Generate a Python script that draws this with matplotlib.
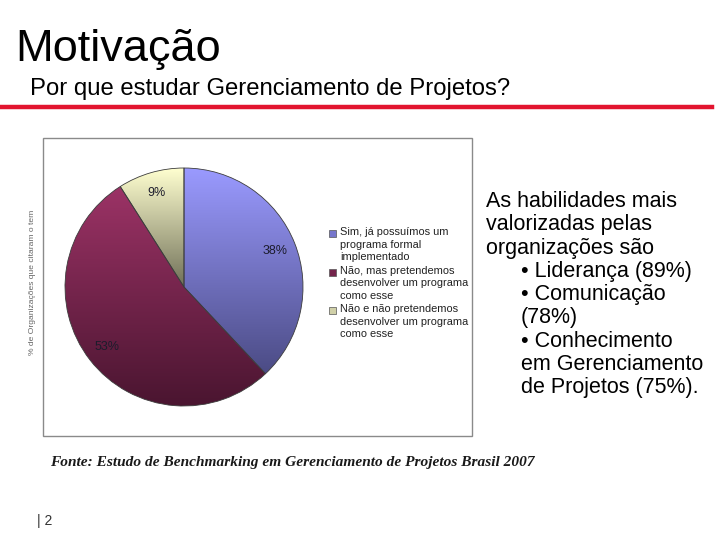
import matplotlib.pyplot as plt
import numpy as np
from matplotlib.colors import LinearSegmentedColormap
from matplotlib.lines import Line2D
from matplotlib.patches import Rectangle

plt.rcParams['font.family'] = ['Liberation Sans', 'DejaVu Sans']

W, H = 717, 538

shares = [38, 53, 9]
labels = ["Sim, já possuímos um\nprograma formal\nimplementado",
          "Não, mas pretendemos\ndesenvolver um programa\ncomo esse",
          "Não e não pretendemos\ndesenvolver um programa\ncomo esse"]
tops = ["#9a9aff", "#9c3366", "#ffffd0"]
bottoms = ["#4b4b84", "#4a1530", "#707058"]
mids = ["#7676cc", "#74244b", "#d0d0a8"]

side_lines = ["As habilidades mais", "valorizadas pelas", "organizações são",
              "• Liderança (89%)", "• Comunicação", "(78%)",
              "• Conhecimento", "em Gerenciamento", "de Projetos (75%)."]
side_indent = [0, 0, 0, 1, 1, 1, 1, 1, 1]


def fx(px):
    return px / W


def fy(py):
    return 1 - py / H


def main():
    fig = plt.figure(figsize=(W / 100, H / 100), dpi=100)

    # title block
    fig.text(fx(15), fy(61), "Motivação", fontsize=32.5, color="black", va="baseline")
    fig.text(fx(30), fy(95), "Por que estudar Gerenciamento de Projetos?", fontsize=17.2,
             color="black", va="baseline")
    fig.add_artist(Line2D([0, fx(712)], [fy(107), fy(107)], color="#e2142f", lw=3.2))

    # chart frame
    fig.add_artist(Rectangle((fx(43), fy(436)), fx(472) - fx(43), fy(138) - fy(436),
                             transform=fig.transFigure, fill=False, edgecolor="#8a8a8a", lw=1))

    cx, cy, r = 184, 287, 119
    ax = fig.add_axes([fx(cx - r), fy(cy + r), 2 * r / W, 2 * r / H])
    wedges, _, autotexts = ax.pie(shares, colors=mids, startangle=90, counterclock=False,
                                  autopct="%.0f%%", pctdistance=0.82,
                                  wedgeprops=dict(edgecolor="#3c3c3c", linewidth=0.6),
                                  textprops=dict(fontsize=9, color="#1c1c2c"))

    grad = np.linspace(1, 0, 256).reshape(-1, 1)
    for w, top, bot in zip(wedges, tops, bottoms):
        w.set_facecolor("none")
        bb = w.get_path().get_extents()
        cmap = LinearSegmentedColormap.from_list("g", [bot, top])
        im = ax.imshow(grad, cmap=cmap, aspect="auto", zorder=0.5,
                       extent=(bb.x0, bb.x1, bb.y0, bb.y1))
        im.set_clip_path(w)
    ax.set_xlim(-1, 1)
    ax.set_ylim(-1, 1)
    ax.axis("off")

    # legend, marker lined up with first line of each entry
    for i, (lab, col) in enumerate(zip(labels, mids)):
        ty = 227 + 38.5 * i
        fig.add_artist(Rectangle((fx(329), fy(ty + 10)), 7 / W, 7 / H, transform=fig.transFigure,
                                 facecolor=col, edgecolor="#555555", lw=0.5))
        fig.text(fx(340), fy(ty), lab, fontsize=7.9, color="#222222", va="top", linespacing=1.32)

    fig.text(fx(33), fy(282), "% de Organizações que citaram o tem", rotation=90,
             fontsize=6.1, color="#666666", ha="center", va="center")

    # side text
    for i, (line, ind) in enumerate(zip(side_lines, side_indent)):
        fig.text(fx(486 + 35 * ind), fy(207 + 23.3 * i), line, fontsize=15.5,
                 color="black", va="baseline")

    fig.text(fx(50), fy(466), "Fonte: Estudo de Benchmarking em Gerenciamento de Projetos Brasil 2007",
             family="Liberation Serif", style="italic", weight="bold", fontsize=11.1,
             color="#1a1a1a", va="baseline")

    fig.text(fx(37), fy(525), "| 2", fontsize=10, color="#333333", va="baseline")

    fig.savefig("out.png", dpi=100)


main()
